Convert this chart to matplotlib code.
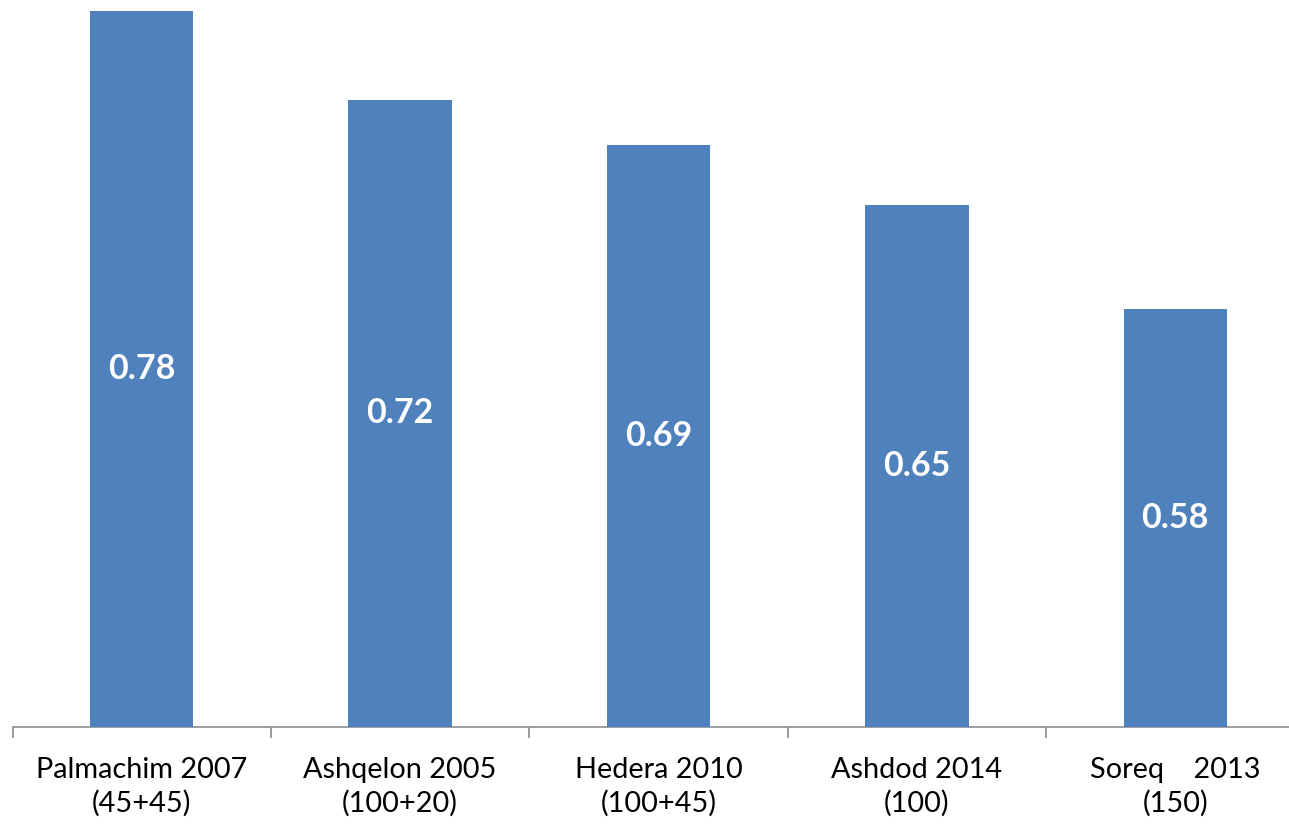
import numpy as np
import matplotlib.pyplot as plt

# plants (year of start, capacity) and values shown on the bars
plants = ["Palmachim 2007\n(45+45)", "Ashqelon 2005\n(100+20)", "Hedera 2010\n(100+45)",
          "Ashdod 2014\n(100)", "Soreq    2013\n(150)"]
values = [0.78, 0.72, 0.69, 0.65, 0.58]

plt.rcParams['font.family'] = ['Lato', 'DejaVu Sans']

W, H = 1289, 825
fig = plt.figure(figsize=(W/100, H/100), dpi=100)
# axes runs a bit past the right edge on purpose
ax = fig.add_axes([12.5/W, (H-726.5)/H, (1304.5-12.5)/W, (726.5-11)/H])

ymin = 0.3
x = np.arange(len(values))
ax.bar(x, np.array(values) - ymin, bottom=ymin, width=0.4, color="#4F81BD", zorder=3)

# value labels in the middle of each bar
for xi, v in zip(x, values):
    ax.text(xi, (ymin + v)/2, "%.2f" % v, ha="center", va="center",
            color="white", fontsize=24.5, fontweight="bold", zorder=4)

ax.set_xlim(-0.5, len(values) - 0.5)
ax.set_ylim(ymin, 0.78)

for s in ["top", "right", "left"]:
    ax.spines[s].set_visible(False)
ax.spines["bottom"].set_color("#8c8c8c")
ax.spines["bottom"].set_linewidth(1.2)
ax.set_yticks([])

# labels at bar centres, tick marks between categories
ax.set_xticks(x)
ax.set_xticklabels(plants, fontsize=20.8, linespacing=1.33)
ax.tick_params(axis="x", which="major", length=0, pad=22)
ax.set_xticks(np.arange(len(values) + 1) - 0.5, minor=True)
ax.tick_params(axis="x", which="minor", length=8, width=1.2, color="#8c8c8c")

plt.savefig("out.png", dpi=100)
